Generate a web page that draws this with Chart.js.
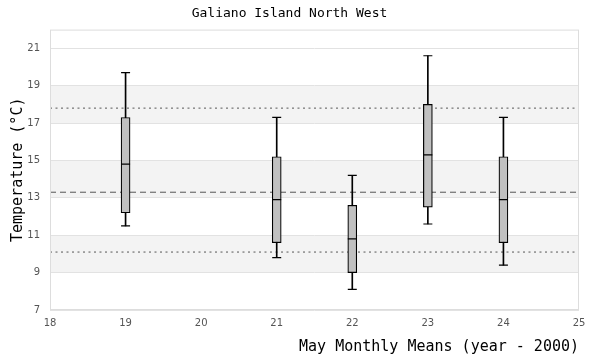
<!DOCTYPE html>
<html>
<head>
<meta charset="utf-8">
<script src="https://cdn.jsdelivr.net/npm/chart.js@4"></script>
<style>
  html, body { margin: 0; padding: 0; background: #fff; }
  #wrap { width: 600px; height: 360px; }
</style>
</head>
<body>
<div id="wrap"><canvas id="chart"></canvas></div>
<script>
const years = [19, 21, 22, 23, 24];
const whiskerLow = [11.5, 9.8, 8.1, 11.6, 9.4];
const q1 = [12.2, 10.6, 9.0, 12.5, 10.6];
const median = [14.8, 12.9, 10.8, 15.3, 12.9];
const q3 = [17.3, 15.2, 12.6, 18.0, 15.2];
const whiskerHigh = [19.7, 17.3, 14.2, 20.6, 17.3];

const meanLine = 13.3;
const sdLines = [10.1, 17.8];
const bands = [[9, 11], [13, 15], [17, 19]];
const xTicks = [18, 19, 20, 21, 22, 23, 24, 25];
const yTicks = [7, 9, 11, 13, 15, 17, 19, 21];
const yRange = [7, 22];

const mono = "'DejaVu Sans Mono', monospace";
const sans = "'DejaVu Sans', sans-serif";

// shaded bands + plot frame, positioned through the scales
const bandPlugin = {
  id: "bands",
  beforeDraw(chart) {
    const { ctx, chartArea, scales } = chart;
    ctx.save();
    ctx.fillStyle = "#f3f3f3";
    bands.forEach(([lo, hi]) => {
      const yTop = scales.y.getPixelForValue(hi);
      const yBot = scales.y.getPixelForValue(lo);
      ctx.fillRect(chartArea.left, yTop, chartArea.right - chartArea.left, yBot - yTop);
    });
    ctx.restore();
  },
  afterDraw(chart) {
    const { ctx, chartArea } = chart;
    ctx.save();
    ctx.strokeStyle = "#dddddd";
    ctx.lineWidth = 1;
    ctx.strokeRect(chartArea.left + 0.5, chartArea.top + 0.5,
      chartArea.right - chartArea.left - 1, chartArea.bottom - chartArea.top - 1);
    ctx.restore();
  }
};

const hLine = (v) => [{ x: xTicks[0], y: v }, { x: xTicks[xTicks.length - 1], y: v }];

new Chart(document.getElementById("chart"), {
  type: "bar",
  data: {
    datasets: [
      {
        type: "scatter",
        data: years.map((x, i) => ({ x, y: median[i] })),
        pointStyle: "line",
        pointRadius: 4.5,
        borderColor: "#000",
        borderWidth: 1.2,
        order: 0
      },
      {
        type: "scatter",
        data: years.flatMap((x, i) => [{ x, y: whiskerLow[i] }, { x, y: whiskerHigh[i] }]),
        pointStyle: "line",
        pointRadius: 4.5,
        borderColor: "#000",
        borderWidth: 1.2,
        order: 1
      },
      {
        data: years.map((x, i) => ({ x, y: [q1[i], q3[i]] })),
        backgroundColor: "#c0c0c0",
        borderColor: "#000",
        borderWidth: 1.2,
        borderSkipped: false,
        barThickness: 9,
        grouped: false,
        order: 2
      },
      {
        data: years.map((x, i) => ({ x, y: [whiskerLow[i], whiskerHigh[i]] })),
        backgroundColor: "#000",
        borderWidth: 0,
        barThickness: 1,
        grouped: false,
        order: 3
      },
      {
        type: "line",
        data: hLine(meanLine),
        borderColor: "#555",
        borderWidth: 1,
        borderDash: [6, 4],
        pointRadius: 0,
        order: 4
      },
      ...sdLines.map((v) => ({
        type: "line",
        data: hLine(v),
        borderColor: "#555",
        borderWidth: 1,
        borderDash: [2, 3.5],
        pointRadius: 0,
        order: 4
      }))
    ]
  },
  options: {
    responsive: true,
    maintainAspectRatio: false,
    animation: false,
    layout: { padding: { left: 0, right: 21, top: 0, bottom: 0 } },
    plugins: {
      legend: { display: false },
      tooltip: { enabled: false },
      title: {
        display: true,
        text: "Galiano Island North West",
        color: "#000",
        font: { family: mono, size: 13, weight: "normal" },
        padding: { top: 6, bottom: 8 }
      }
    },
    scales: {
      x: {
        type: "linear",
        min: xTicks[0],
        max: xTicks[xTicks.length - 1],
        offset: false,
        grid: { display: false, drawTicks: false },
        border: { display: false },
        afterBuildTicks(scale) { scale.ticks = xTicks.map((value) => ({ value })); },
        ticks: {
          color: "#555",
          padding: 7,
          font: { family: sans, size: 10 }
        },
        title: {
          display: true,
          text: "May Monthly Means (year - 2000)",
          align: "end",
          color: "#000",
          font: { family: mono, size: 15, weight: "normal" },
          padding: { top: 0, bottom: 4 }
        },
        afterFit(scale) { scale.height = 50; }
      },
      y: {
        min: yRange[0],
        max: yRange[1],
        grid: { color: "#e2e2e2", drawTicks: false },
        border: { display: false },
        afterBuildTicks(scale) { scale.ticks = yTicks.map((value) => ({ value })); },
        ticks: {
          color: "#555",
          padding: 10,
          font: { family: sans, size: 10 }
        },
        title: {
          display: true,
          text: "Temperature (°C)",
          color: "#000",
          font: { family: mono, size: 15, weight: "normal" },
          padding: { top: 9, bottom: 0 }
        },
        afterFit(scale) { scale.width = 50; }
      }
    }
  },
  plugins: [bandPlugin]
});
</script>
</body>
</html>
